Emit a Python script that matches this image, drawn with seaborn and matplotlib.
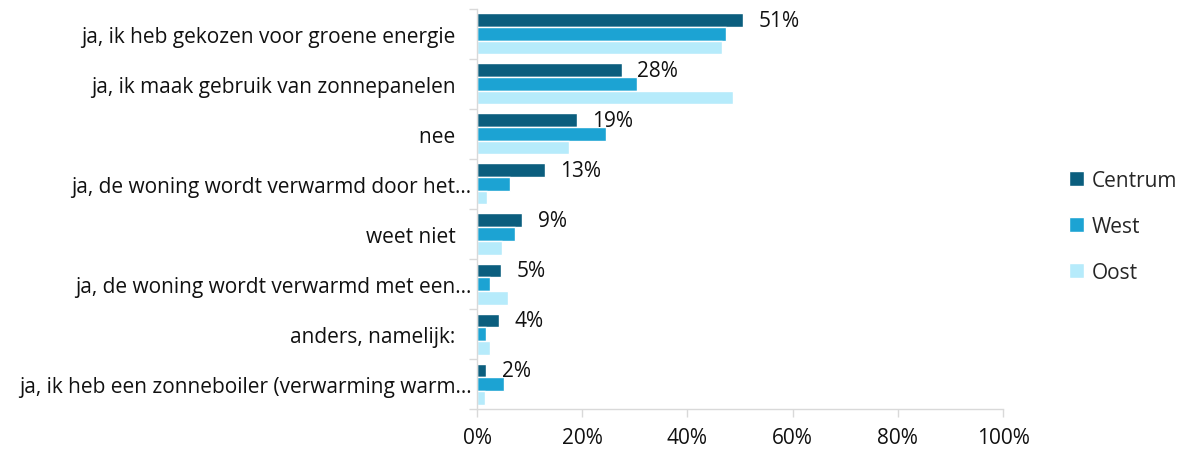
import matplotlib
matplotlib.use("Agg")
import matplotlib.pyplot as plt
import seaborn as sns
import pandas as pd
from matplotlib.ticker import FixedLocator, PercentFormatter

# answers (y-axis) as shown in the chart
categories = [
    "ja, ik heb gekozen voor groene energie   ",
    "ja, ik maak gebruik van zonnepanelen   ",
    "nee   ",
    "ja, de woning wordt verwarmd door het…",
    "weet niet   ",
    "ja, de woning wordt verwarmd met een…",
    "anders, namelijk:   ",
    "ja, ik heb een zonneboiler (verwarming warm…",
]
regions = ["Centrum", "West", "Oost"]

# percentages
centrum = [50.6, 27.6, 19.0, 12.9, 8.6, 4.6, 4.2, 1.8]
west = [47.3, 30.5, 24.6, 6.3, 7.3, 2.5, 1.8, 5.2]
oost = [46.6, 48.6, 17.4, 1.9, 4.8, 5.8, 2.5, 1.6]

colors = ["#0B5E7E", "#1CA3D3", "#B6EBFB"]

df = pd.DataFrame({
    "antwoord": categories * 3,
    "regio": [r for r in regions for _ in categories],
    "pct": centrum + west + oost,
})

sns.set_theme(style="white")
plt.rcParams["font.family"] = ["Open Sans", "DejaVu Sans"]
fs = 15

fig = plt.figure(figsize=(11.81, 4.52), dpi=100)
ax = fig.add_axes([0.4039, 0.0929, 0.4454, 0.885])

sns.barplot(data=df, y="antwoord", x="pct", hue="regio", order=categories,
            hue_order=regions, palette=colors, orient="h", width=0.82,
            gap=0, saturation=1, errorbar=None, ax=ax)

# value labels only on the Centrum bars
ax.bar_label(ax.containers[0], labels=[f"{round(v)}%" for v in centrum],
             padding=11, fontsize=fs, color="#111111")

ax.set_xlim(0, 100)
ax.set_ylim(len(categories) - 0.5, -0.5)
ax.xaxis.set_major_locator(FixedLocator([0, 20, 40, 60, 80, 100]))
ax.xaxis.set_major_formatter(PercentFormatter(decimals=0))
ax.set_xlabel("")
ax.set_ylabel("")

# category separators as minor ticks on the y axis
ax.yaxis.set_minor_locator(FixedLocator([i - 0.5 for i in range(len(categories) + 1)]))
ax.tick_params(axis="y", which="major", length=0, pad=4, labelsize=fs, labelcolor="#111111")
ax.tick_params(axis="y", which="minor", length=6, width=1, color="#D9D9D9", left=True)
ax.tick_params(axis="x", which="major", length=6, width=1, color="#D9D9D9", bottom=True,
               labelsize=fs, labelcolor="#111111", pad=7)

for side in ["top", "right"]:
    ax.spines[side].set_visible(False)
for side in ["left", "bottom"]:
    ax.spines[side].set_color("#D9D9D9")
    ax.spines[side].set_linewidth(1)

ax.legend(loc="center left", bbox_to_anchor=(1.09, 0.4575), frameon=False,
          fontsize=fs, handlelength=0.7, handleheight=0.7, handletextpad=0.4,
          labelspacing=1.2)

fig.savefig("out.png", dpi=100)
